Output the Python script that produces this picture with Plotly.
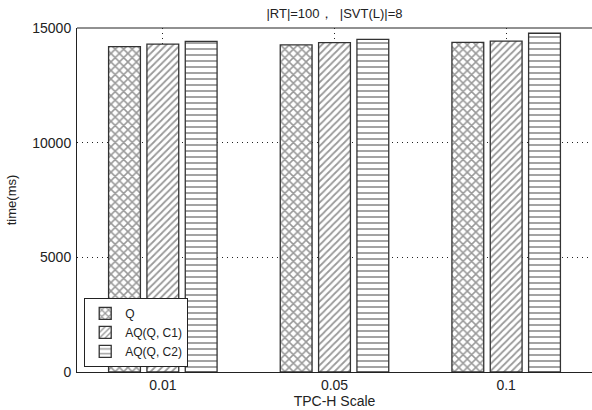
import plotly.graph_objects as go

categories = ["0.01", "0.05", "0.1"]
series_names = ["Q", "AQ(Q, C1)", "AQ(Q, C2)"]
q_vals = [14190, 14260, 14370]
c1_vals = [14300, 14360, 14430]
c2_vals = [14420, 14505, 14770]
y_ticks = [0, 5000, 10000, 15000]
y_tick_text = ["0", "5000", "10000", "15000"]

patterns = ["x", "/", "-"]
sizes = [6, 5, 6]
solid = [0.45, 0.35, 0.3]

fig = go.Figure()
for name, vals, shp, sz, so in zip(series_names, [q_vals, c1_vals, c2_vals], patterns, sizes, solid):
    fig.add_trace(go.Bar(
        x=categories, y=vals, name=name,
        marker=dict(color="white",
                    line=dict(color="#333333", width=1.3),
                    pattern=dict(shape=shp, fgcolor="#333333", bgcolor="white",
                                 size=sz, solidity=so)),
    ))

fig.update_layout(
    width=592, height=410,
    margin=dict(l=77, r=0, t=28, b=38),
    paper_bgcolor="white", plot_bgcolor="white",
    barmode="group", bargap=0.33, bargroupgap=0.17,
    font=dict(family="Liberation Sans, Arial", size=14, color="#222222"),
    title=dict(text="|RT|=100，  |SVT(L)|=8", x=0.565, xanchor="center",
               y=0.968, yanchor="middle", font=dict(size=13)),
    showlegend=True,
    legend=dict(x=0.014, y=0.015, xanchor="left", yanchor="bottom",
                bordercolor="#222222", borderwidth=1, bgcolor="white",
                font=dict(size=12), tracegroupgap=0, itemwidth=30),
    xaxis=dict(type="category", range=[-0.5, 2.5], showline=True, linecolor="#222222",
               mirror=False, ticks="", showgrid=True, gridcolor="#222222",
               griddash="1px,4px", gridwidth=1, tickfont=dict(size=14),
               title=dict(text="TPC-H Scale", standoff=0, font=dict(size=14))),
    yaxis=dict(range=[0, 15000], tickvals=y_ticks, ticktext=y_tick_text,
               showline=True, linecolor="#222222", tickfont=dict(size=14),
               ticks="", showgrid=True, gridcolor="#222222", griddash="1px,4px",
               zeroline=False, ticklabelstandoff=2,
               title=dict(text="time(ms)", standoff=12, font=dict(size=13))),
)
fig.add_shape(type="line", xref="paper", yref="paper", x0=0, x1=1, y0=1, y1=1,
              line=dict(color="#222222", width=1))

fig.write_html("out.html")
